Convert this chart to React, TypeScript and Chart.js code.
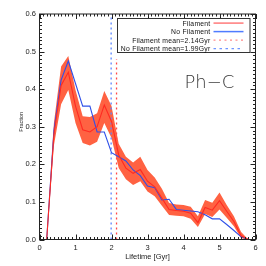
import { useEffect, useRef } from 'react';
import { Chart, registerables } from 'chart.js';

Chart.register(...registerables);

// ---- data ----
const lifetime = [0, 0.2, 0.4, 0.6, 0.8, 1.0, 1.2, 1.4, 1.6, 1.8, 2.0, 2.2, 2.4, 2.6, 2.8, 3.0, 3.2, 3.4, 3.6, 3.8, 4.0, 4.2, 4.4, 4.6, 4.8, 5.0, 5.2, 5.4, 5.6, 5.8, 6.0];
const filament = [0, 0, 0.28, 0.41, 0.445, 0.355, 0.292, 0.286, 0.3, 0.358, 0.314, 0.225, 0.19, 0.176, 0.186, 0.155, 0.14, 0.11, 0.08, 0.077, 0.075, 0.07, 0.045, 0.085, 0.078, 0.103, 0.075, 0.048, 0.01, 0, 0];
const filamentLow = [0, 0, 0.25, 0.36, 0.398, 0.31, 0.257, 0.25, 0.26, 0.31, 0.27, 0.19, 0.16, 0.145, 0.155, 0.128, 0.115, 0.09, 0.065, 0.063, 0.062, 0.055, 0.033, 0.068, 0.06, 0.08, 0.058, 0.035, 0.003, 0, 0];
const filamentHigh = [0, 0, 0.31, 0.46, 0.488, 0.398, 0.328, 0.326, 0.336, 0.395, 0.355, 0.255, 0.22, 0.205, 0.22, 0.185, 0.165, 0.135, 0.097, 0.093, 0.092, 0.087, 0.062, 0.105, 0.098, 0.125, 0.092, 0.062, 0.02, 0, 0];
const noFilament = [0, 0, 0.29, 0.424, 0.475, 0.415, 0.355, 0.355, 0.286, 0.286, 0.231, 0.22, 0.209, 0.185, 0.17, 0.142, 0.138, 0.105, 0.107, 0.08, 0.078, 0.076, 0.074, 0.066, 0.055, 0.055, 0.04, 0.024, 0.007, 0, 0];
const meanFilament = 2.14;
const meanNoFilament = 1.99;
const meanFilamentSpan = [0, 0.48];
const meanNoFilamentSpan = [0, 0.6];
const xRange = [0, 6];
const yRange = [0, 0.6];
const legendLabels = ['Filament', 'No Filament', 'Filament mean=2.14Gyr', 'No Filament mean=1.99Gyr'];
const panelLabel = 'Ph\u2212C';
const xTitle = 'Lifetime [Gyr]';
const yTitle = 'Fraction';

// ---- style ----
const RED = '#ff2a22';
const BAND = 'rgba(255,98,66,1)';
const BLUE = '#2f50e8';
const RED_DOT = '#ff4a4a';
const BLUE_DOT = '#5a84ff';
const AXIS = '#222';

const framePlugin = {
  id: 'frame',
  afterDatasetsDraw(chart: any) {
    const { ctx, chartArea, scales } = chart;
    const { left, right, top, bottom } = chartArea;
    const x = scales.x;
    const y = scales.y;
    ctx.save();
    ctx.strokeStyle = AXIS;
    ctx.lineWidth = 1;
    ctx.strokeRect(left, top, right - left, bottom - top);
    const seg = (x1: number, y1: number, x2: number, y2: number) => {
      ctx.beginPath();
      ctx.moveTo(x1, y1);
      ctx.lineTo(x2, y2);
      ctx.stroke();
    };
    for (let i = 0; i <= 60; i++) {
      const px = Math.round(x.getPixelForValue(i / 10)) + 0.5;
      const len = i % 10 === 0 ? 5 : 2.5;
      seg(px, bottom, px, bottom - len);
      seg(px, top, px, top + len);
    }
    for (let i = 0; i <= 60; i++) {
      const py = Math.round(y.getPixelForValue(i / 100)) + 0.5;
      const len = i % 10 === 0 ? 5 : 2.5;
      seg(left, py, left + len, py);
      seg(right, py, right - len, py);
    }
    ctx.restore();
  },
  afterDraw(chart: any) {
    const { ctx, chartArea } = chart;
    const { left, top, bottom } = chartArea;
    ctx.save();
    // y title
    ctx.fillStyle = AXIS;
    ctx.font = '5.5px "Liberation Sans", Arial, sans-serif';
    ctx.textAlign = 'center';
    ctx.textBaseline = 'middle';
    ctx.translate(21, (top + bottom) / 2 - 5);
    ctx.rotate(-Math.PI / 2);
    ctx.fillText(yTitle, 0, 0);
    ctx.restore();

    // legend
    ctx.save();
    const bx = left + 78;
    const by = top + 4.5;
    const bw = 132.5;
    const bh = 34;
    ctx.fillStyle = '#fff';
    ctx.fillRect(bx, by, bw, bh);
    ctx.strokeStyle = '#333';
    ctx.lineWidth = 1;
    ctx.strokeRect(bx, by, bw, bh);
    ctx.font = '6.8px "Liberation Sans", Arial, sans-serif';
    (ctx as any).letterSpacing = '0.25px';
    ctx.fillStyle = '#111';
    ctx.textAlign = 'right';
    ctx.textBaseline = 'alphabetic';
    const styles = [
      { c: '#ff7a7a', dash: [] as number[], w: 1.5 },
      { c: '#4f7cff', dash: [] as number[], w: 1.5 },
      { c: '#ff8a8a', dash: [2, 3.5], w: 1.3 },
      { c: '#6f95ff', dash: [2.5, 3.5], w: 1.3 },
    ];
    legendLabels.forEach((t, i) => {
      const ry = by + 4.6 + i * 8.5;
      ctx.fillText(t, bx + 93, ry + 2.4);
      ctx.save();
      ctx.strokeStyle = styles[i].c;
      ctx.lineWidth = styles[i].w;
      ctx.setLineDash(styles[i].dash);
      ctx.beginPath();
      ctx.moveTo(bx + 96, ry);
      ctx.lineTo(bx + 126, ry);
      ctx.stroke();
      ctx.restore();
    });
    (ctx as any).letterSpacing = '0px';

    // panel label
    ctx.fillStyle = '#333';
    ctx.font = '200 18px "DejaVu Sans", sans-serif';
    ctx.textAlign = 'left';
    ctx.textBaseline = 'alphabetic';
    ctx.fillText(panelLabel, 184.5, 88);
    ctx.restore();
  },
};

export default function App() {
  const ref = useRef<HTMLCanvasElement>(null);
  useEffect(() => {
    const pts = (ys: number[]) => lifetime.map((x, i) => ({ x, y: ys[i] }));
    const chart = new Chart(ref.current as HTMLCanvasElement, {
      type: 'line',
      data: {
        datasets: [
          { label: 'Filament', data: pts(filament), borderColor: RED, borderWidth: 1.1, pointRadius: 0, fill: false, order: 0, tension: 0 },
          { label: 'No Filament', data: pts(noFilament), borderColor: BLUE, borderWidth: 1.1, pointRadius: 0, fill: false, order: 0, tension: 0 },
          { label: 'lo', data: pts(filamentLow), borderWidth: 0, borderColor: 'rgba(0,0,0,0)', pointRadius: 0, fill: false, order: 3 },
          { label: 'hi', data: pts(filamentHigh), borderWidth: 0, borderColor: 'rgba(0,0,0,0)', pointRadius: 0, fill: '-1', backgroundColor: BAND, order: 3 },
          {
            label: 'Filament mean',
            data: meanFilamentSpan.map((v) => ({ x: meanFilament, y: v })),
            borderColor: RED_DOT, borderWidth: 1.3, borderDash: [2, 3], pointRadius: 0, fill: false, order: 1,
          },
          {
            label: 'No Filament mean',
            data: meanNoFilamentSpan.map((v) => ({ x: meanNoFilament, y: v })),
            borderColor: BLUE_DOT, borderWidth: 1.3, borderDash: [2, 3], pointRadius: 0, fill: false, order: 1,
          },
        ],
      },
      options: {
        animation: false,
        responsive: false,
        devicePixelRatio: 1,
        layout: { padding: { left: 0, right: 10.5, top: 14, bottom: 0 } },
        plugins: { legend: { display: false }, tooltip: { enabled: false }, title: { display: false } },
        elements: { line: { borderCapStyle: 'butt' } },
        scales: {
          x: {
            type: 'linear',
            min: xRange[0],
            max: xRange[1],
            grid: { display: false, drawTicks: false },
            border: { display: false },
            ticks: {
              stepSize: 1,
              autoSkip: false,
              maxRotation: 0,
              padding: 4,
              color: AXIS,
              font: { family: '"Liberation Sans", Arial, sans-serif', size: 7.5 },
              callback: (v: any) => String(v),
            },
            title: {
              display: true,
              text: xTitle,
              color: AXIS,
              font: { family: '"Liberation Sans", Arial, sans-serif', size: 7.5 },
              padding: { top: 0, bottom: 4.5 },
            },
            afterFit: (s: any) => { s.height = 26.5; },
          },
          y: {
            type: 'linear',
            min: yRange[0],
            max: yRange[1],
            grid: { display: false, drawTicks: false },
            border: { display: false },
            ticks: {
              stepSize: 0.1,
              padding: 3.5,
              color: AXIS,
              font: { family: '"Liberation Sans", Arial, sans-serif', size: 7.5 },
              callback: (v: any) => Number(v).toFixed(1),
            },
            afterFit: (s: any) => { s.width = 39.5; },
          },
        },
      },
      plugins: [framePlugin],
    } as any);
    return () => chart.destroy();
  }, []);
  return (
    <div style={{ position: 'fixed', left: 0, top: 0, width: 266, height: 266, background: '#fff' }}>
      <canvas ref={ref} width={266} height={266} style={{ width: 266, height: 266, display: 'block' }} />
    </div>
  );
}
